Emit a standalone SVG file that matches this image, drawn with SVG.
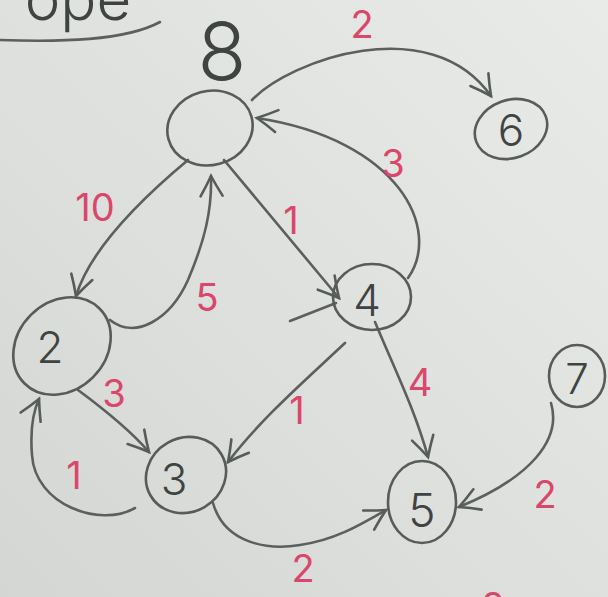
<svg xmlns="http://www.w3.org/2000/svg" width="608" height="597" viewBox="0 0 608 597">
  <defs>
    <linearGradient id="board" x1="1" y1="0" x2="0" y2="1">
      <stop offset="0" stop-color="#e9ebe8"/>
      <stop offset="0.5" stop-color="#dfe1de"/>
      <stop offset="1" stop-color="#d3d6d2"/>
    </linearGradient>
    <marker id="arrow" markerUnits="userSpaceOnUse" viewBox="0 0 28 28" markerWidth="28" markerHeight="28" refX="25" refY="14" orient="auto">
      <path d="M5,3 Q15,9 25,14 Q15,19 5,25" fill="none" stroke="#575b59" stroke-width="2.6" stroke-linecap="round"/>
    </marker>
    <style>
      .node ellipse { fill: none; stroke: #575b59; stroke-width: 2.6; }
      .num { font-family: Inter, "Open Sans", "DejaVu Sans", sans-serif; font-weight: 300; fill: #3f4341; text-anchor: middle; }
      .edge { fill: none; stroke: #5b5f5d; stroke-width: 2.6; stroke-linecap: round; }
      .arr { marker-end: url(#arrow); }
      .w { font-family: Inter, "Open Sans", "DejaVu Sans", sans-serif; font-weight: 400; fill: #d9476b; text-anchor: middle; font-size: 38px; }
    </style>
  </defs>

  <rect x="0" y="0" width="608" height="597" fill="url(#board)"/>

  <!-- heading scribble at the top-left edge -->
  <g id="heading">
    <text x="78" y="20" class="num" font-size="60" fill="#555957">ope</text>
    <path class="edge" d="M0 40 C 60 42, 125 41, 160 22"/>
  </g>

  <!-- connectors -->
  <g id="connectors">
    <!-- 8 -> 6 -->
    <path class="edge arr" d="M252 100 C 290 60, 430 10, 491 96"/>
    <!-- 4 -> 8 -->
    <path class="edge arr" d="M408 278 C 442 230, 400 140, 257 118"/>
    <!-- 8 -> 4 -->
    <path class="edge arr" d="M224 160 L 339 298"/>
    <path class="edge" d="M290 321 L 336 303"/>
    <!-- 8 -> 2 -->
    <path class="edge arr" d="M188 160 C 140 200, 90 250, 76 296"/>
    <!-- 2 -> 8 -->
    <path class="edge arr" d="M110 320 C 135 340, 170 320, 188 280 C 205 240, 212 210, 211 176"/>
    <!-- 2 -> 3 -->
    <path class="edge arr" d="M78 390 C 105 410, 130 430, 149 452"/>
    <!-- 3 -> 2 -->
    <path class="edge arr" d="M135 508 C 100 528, 35 505, 32 455 C 30 430, 33 412, 39 399"/>
    <!-- 4 -> 3 -->
    <path class="edge arr" d="M345 343 C 300 385, 260 420, 228 462"/>
    <!-- 4 -> 5 -->
    <path class="edge arr" d="M375 322 C 395 370, 415 410, 428 457"/>
    <!-- 3 -> 5 -->
    <path class="edge arr" d="M213 503 C 225 545, 270 550, 300 545 C 335 540, 360 525, 386 510"/>
    <!-- 7 -> 5 -->
    <path class="edge arr" d="M551 403 C 562 440, 530 478, 459 507"/>
  </g>

  <!-- nodes -->
  <g id="node-8" class="node">
    <ellipse cx="210" cy="128" rx="43" ry="37" transform="rotate(-15 210 128)"/>
    <text x="222" y="80" class="num" font-size="80" fill="#6e7270">8</text>
  </g>
  <g id="node-6" class="node">
    <ellipse cx="511" cy="129" rx="37" ry="29" transform="rotate(-20 511 129)"/>
    <text x="511" y="146" class="num" font-size="44">6</text>
  </g>
  <g id="node-4" class="node">
    <ellipse cx="372" cy="297" rx="39" ry="33"/>
    <text x="367" y="316" class="num" font-size="44">4</text>
  </g>
  <g id="node-2" class="node">
    <ellipse cx="62" cy="346" rx="53" ry="44" transform="rotate(-45 62 346)"/>
    <text x="50" y="363" class="num" font-size="44">2</text>
  </g>
  <g id="node-3" class="node">
    <ellipse cx="186" cy="475" rx="41" ry="37" transform="rotate(-30 186 475)"/>
    <text x="174" y="495" class="num" font-size="44">3</text>
  </g>
  <g id="node-5" class="node">
    <ellipse cx="422" cy="502" rx="34" ry="41"/>
    <text x="422" y="527" class="num" font-size="46">5</text>
  </g>
  <g id="node-7" class="node">
    <ellipse cx="577" cy="376" rx="28" ry="31"/>
    <text x="577" y="394" class="num" font-size="42">7</text>
  </g>

  <!-- edge weights -->
  <g id="weights">
    <text x="362" y="38" class="w" font-size="34">2</text>
    <text x="393" y="177" class="w" font-size="36">3</text>
    <text x="95" y="221" class="w">10</text>
    <text x="291" y="234" class="w" font-size="46">1</text>
    <text x="207" y="311" class="w">5</text>
    <text x="114" y="407" class="w">3</text>
    <text x="74" y="489" class="w" font-size="28">1</text>
    <text x="297" y="424" class="w" font-size="40">1</text>
    <text x="420" y="396" class="w">4</text>
    <text x="545" y="508" class="w" font-size="34">2</text>
    <text x="303" y="582" class="w">2</text>
    <text x="447" y="625" class="w" font-size="45">1</text>
    <text x="493" y="620" class="w" font-size="55">8</text>
  </g>
</svg>
